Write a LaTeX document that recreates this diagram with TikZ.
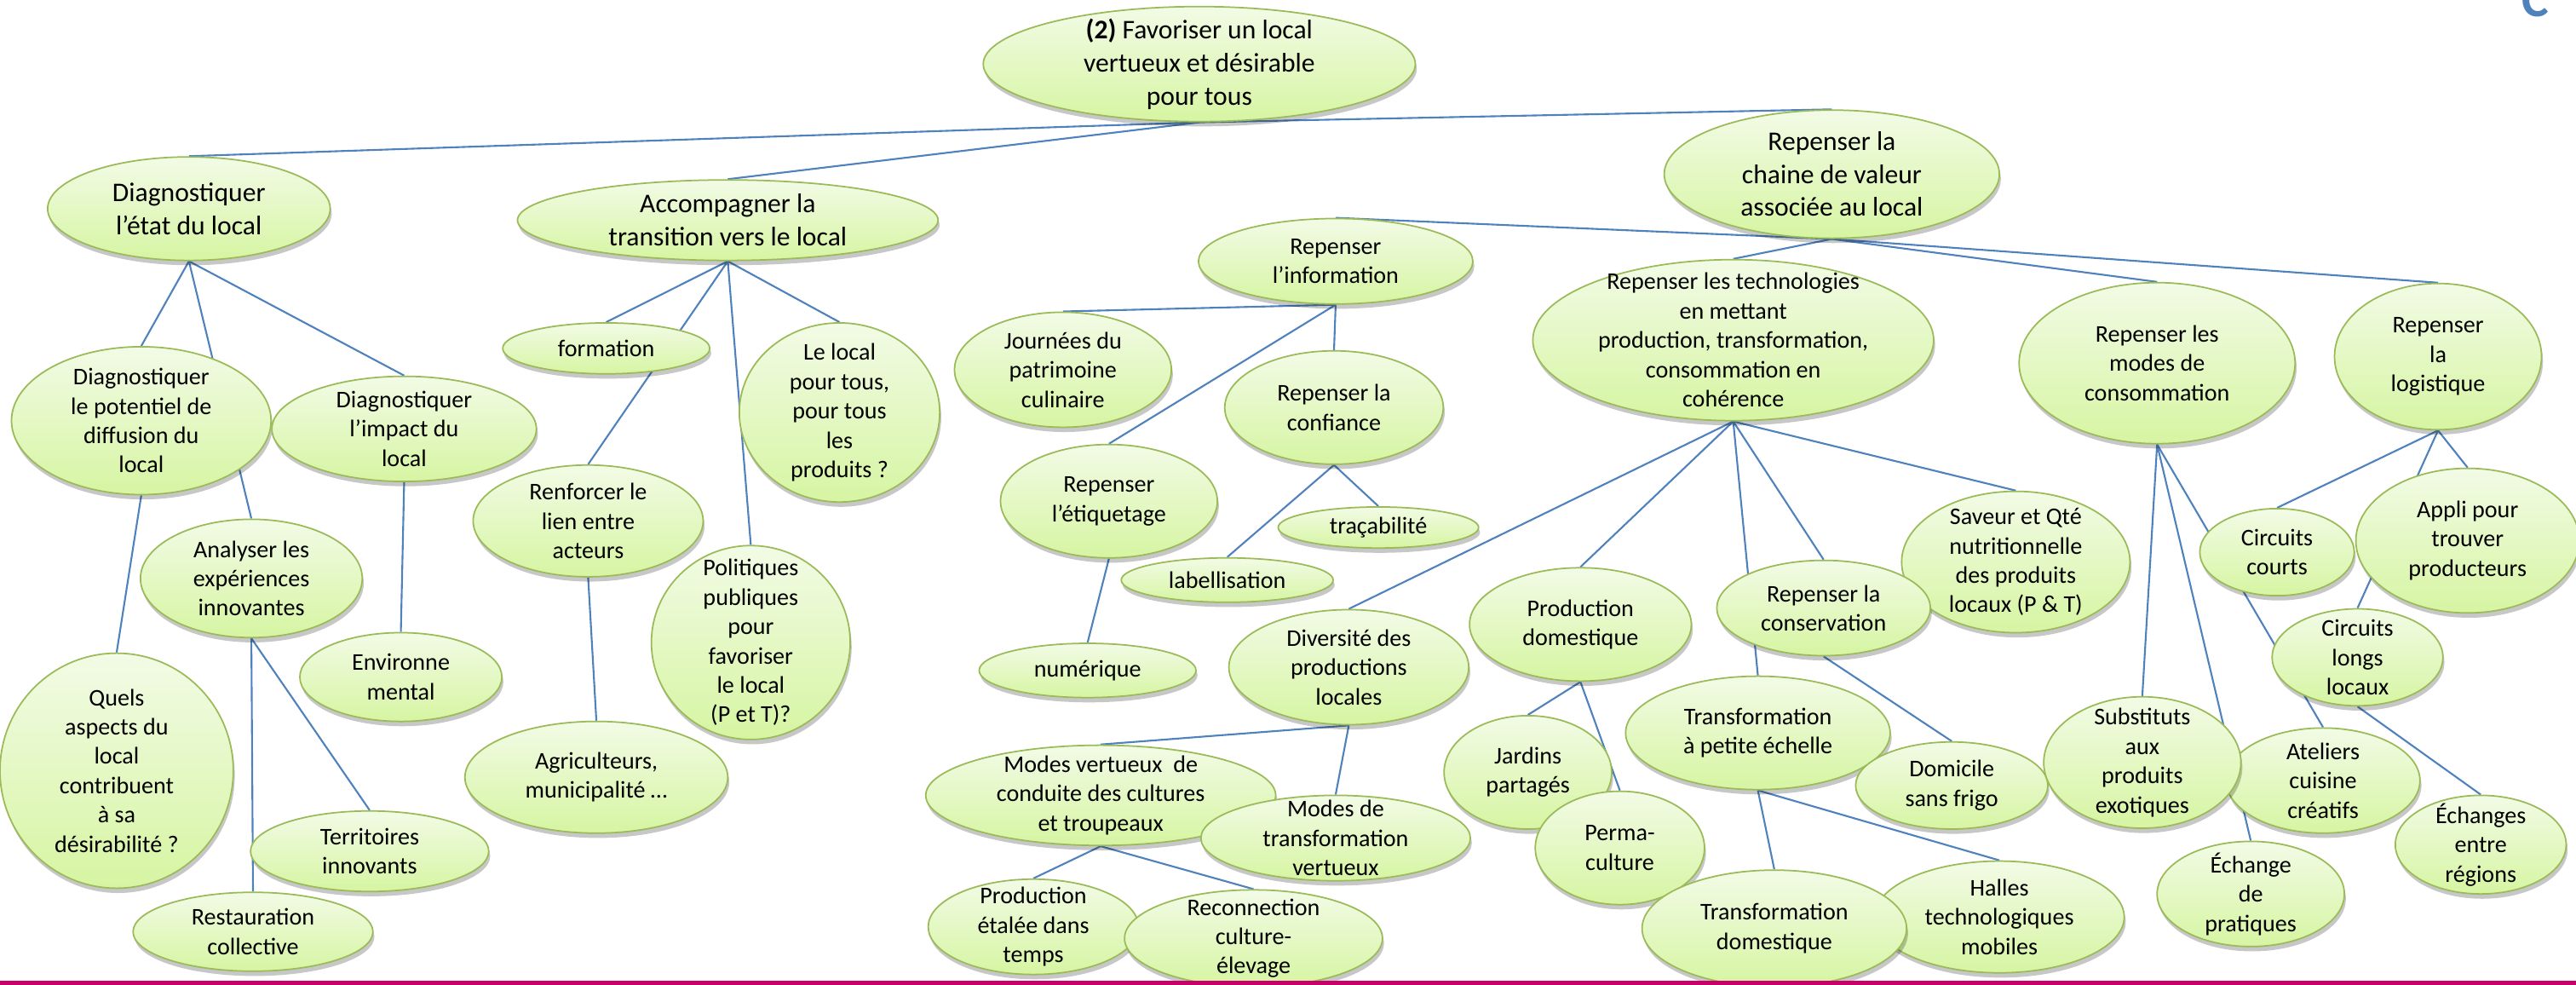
\documentclass[tikz,border=0pt]{standalone}
\usepackage{fontspec}
\setmainfont{Carlito}
\usepackage{tikz}
\usetikzlibrary{backgrounds,shadows,shapes.geometric}
\definecolor{CMBlue}{HTML}{4F81BD}
\definecolor{CMOlive}{HTML}{9BBB59}
\definecolor{CMLight}{HTML}{F2FBE6}
\definecolor{CMLime}{HTML}{D6F5A2}
\definecolor{CMMagenta}{HTML}{C8006A}
\newcommand{\cmu}{0.019286cm}
\newcommand{\cmfont}{\fontsize{8}{9.8}\selectfont}
\newcommand{\cmfontL}{\fontsize{9}{11}\selectfont}
\tikzset{
  cmBubble/.style={
    ellipse, draw=CMOlive, line width=0.5pt, top color=CMLight, bottom color=CMLime,
    inner sep=0pt,
    drop shadow={shadow xshift=0.5pt, shadow yshift=-1.6pt, opacity=0.22, fill=black}
  },
  cmSize/.style 2 args={minimum width=#1*\cmu, minimum height=#2*\cmu},
  cmText/.style={align=center, font=\cmfont, text=black, inner sep=0pt},
  cmTextL/.style={align=center, font=\cmfontL, text=black, inner sep=0pt},
  cmLink/.style={draw=CMBlue, line width=0.6pt}
}

\begin{document}
\begin{tikzpicture}[x=\cmu, y=-\cmu]
  \useasboundingbox (0,0) rectangle (1568,599);

  \node[cmBubble, cmSize={263}{70}, label={[cmTextL]center:{\textbf{(2)} Favoriser un local\\vertueux et désirable\\pour tous}}] (root) at (730,39) {};

  \node[cmBubble, cmSize={172}{63}, label={[cmTextL]center:{Diagnostiquer\\l’état du local}}] (etat) at (115,127) {};
  \node[cmBubble, cmSize={256}{49}, label={[cmTextL]center:{Accompagner la\\transition vers le local}}] (accomp) at (443,134) {};
  \node[cmBubble, cmSize={204}{78}, label={[cmTextL]center:{Repenser la\\chaine de valeur\\associée au local}}] (chaine) at (1115,106) {};

  \node[cmBubble, cmSize={158}{90}, label={[cmText]center:{Diagnostiquer\\le potentiel de\\diffusion du\\local}}] (diagpot) at (86,256) {};
  \node[cmBubble, cmSize={161}{64}, label={[cmText]center:{Diagnostiquer\\l’impact du\\local}}] (diagimpact) at (246,261) {};
  \node[cmBubble, cmSize={135}{72}, label={[cmText]center:{Analyser les\\expériences\\innovantes}}] (analyser) at (153,352) {};
  \node[cmBubble, cmSize={123}{54}, label={[cmText]center:{Environne\\mental}}] (environ) at (244,412) {};
  \node[cmBubble, cmSize={142}{143}, label={[cmText]center:{Quels\\aspects du\\local\\contribuent\\à sa\\désirabilité ?}}] (quels) at (71,469) {};
  \node[cmBubble, cmSize={145}{49}, label={[cmText]center:{Territoires\\innovants}}] (territoires) at (225,518) {};
  \node[cmBubble, cmSize={146}{48}, label={[cmText]center:{Restauration\\collective}}] (restau) at (154,567) {};

  \node[cmBubble, cmSize={126}{31}, label={[cmText]center:{formation}}] (formation) at (369,212) {};
  \node[cmBubble, cmSize={122}{109}, label={[cmText]center:{Le local\\pour tous,\\pour tous\\les\\produits ?}}] (lelocal) at (511,251) {};
  \node[cmBubble, cmSize={140}{68}, label={[cmText]center:{Renforcer le\\lien entre\\acteurs}}] (renforcer) at (358,317) {};
  \node[cmBubble, cmSize={121}{118}, label={[cmText]center:{Politiques\\publiques\\pour\\favoriser\\le local\\(P et T)?}}] (politiques) at (457,391) {};
  \node[cmBubble, cmSize={160}{68}, label={[cmText]center:{Agriculteurs,\\municipalité …}}] (agri) at (363,473) {};

  \node[cmBubble, cmSize={167}{52}, label={[cmText]center:{Repenser\\l’information}}] (info) at (813,159) {};
  \node[cmBubble, cmSize={244}{98}, label={[cmText]center:{Repenser les technologies\\en mettant\\production, transformation,\\consommation en\\cohérence}}] (techno) at (1055,207) {};
  \node[cmBubble, cmSize={168}{98}, label={[cmText]center:{Repenser les\\modes de\\consommation}}] (modes) at (1313,221) {};
  \node[cmBubble, cmSize={126}{89}, label={[cmText]center:{Repenser\\la\\logistique}}] (logist) at (1484,217) {};

  \node[cmBubble, cmSize={132}{70}, label={[cmText]center:{Journées du\\patrimoine\\culinaire}}] (journees) at (647,225) {};
  \node[cmBubble, cmSize={133}{69}, label={[cmText]center:{Repenser la\\confiance}}] (confiance) at (812,248) {};
  \node[cmBubble, cmSize={132}{69}, label={[cmText]center:{Repenser\\l’étiquetage}}] (etiquetage) at (675,305) {};
  \node[cmBubble, cmSize={122}{25}, label={[cmText]center:{traçabilité}}] (tracab) at (839,321) {};
  \node[cmBubble, cmSize={129}{27}, label={[cmText]center:{labellisation}}] (labell) at (747,353) {};
  \node[cmBubble, cmSize={132}{33}, label={[cmText]center:{numérique}}] (numerique) at (662,408) {};

  \node[cmBubble, cmSize={139}{86}, label={[cmText]center:{Saveur et Qté\\nutritionnelle\\des produits\\locaux (P \& T)}}] (saveur) at (1227,342) {};
  \node[cmBubble, cmSize={130}{58}, label={[cmText]center:{Repenser la\\conservation}}] (conserv) at (1110,370) {};
  \node[cmBubble, cmSize={135}{69}, label={[cmText]center:{Production\\domestique}}] (proddom) at (962,380) {};
  \node[cmBubble, cmSize={146}{70}, label={[cmText]center:{Diversité des\\productions\\locales}}] (diversite) at (821,406) {};
  \node[cmBubble, cmSize={161}{69}, label={[cmText]center:{Transformation\\à petite échelle}}] (transfo) at (1070,446) {};
  \node[cmBubble, cmSize={117}{53}, label={[cmText]center:{Domicile\\sans frigo}}] (domicile) at (1188,478) {};
  \node[cmBubble, cmSize={102}{69}, label={[cmText]center:{Jardins\\partagés}}] (jardins) at (930,470) {};
  \node[cmBubble, cmSize={103}{69}, label={[cmText]center:{Perma-\\culture}}] (perma) at (986,516) {};
  \node[cmBubble, cmSize={152}{68}, label={[cmText]center:{Halles\\technologiques\\mobiles}}] (halles) at (1217,558) {};
  \node[cmBubble, cmSize={161}{71}, label={[cmText]center:{Transformation\\domestique}}] (transdom) at (1080,565) {};

  \node[cmBubble, cmSize={213}{61}, label={[cmText]center:{Modes vertueux~ de\\conduite des cultures\\et troupeaux}}] (modesv) at (670,484) {};
  \node[cmBubble, cmSize={164}{52}, label={[cmText]center:{Modes de\\transformation\\vertueux}}] (modestr) at (813,510) {};
  \node[cmBubble, cmSize={128}{58}, label={[cmText]center:{Production\\étalée dans\\temps}}] (etalee) at (629,564) {};
  \node[cmBubble, cmSize={157}{59}, label={[cmText]center:{Reconnection\\culture-\\élevage}}] (reconn) at (763,571) {};

  \node[cmBubble, cmSize={94}{53}, label={[cmText]center:{Circuits\\courts}}] (circourts) at (1386,336) {};
  \node[cmBubble, cmSize={136}{88}, label={[cmText]center:{Appli pour\\trouver\\producteurs}}] (appli) at (1502,329) {};
  \node[cmBubble, cmSize={104}{59}, label={[cmText]center:{Circuits\\longs\\locaux}}] (circlong) at (1435,400) {};
  \node[cmBubble, cmSize={118}{64}, label={[cmText]center:{Ateliers\\cuisine\\créatifs}}] (ateliers) at (1414,475) {};
  \node[cmBubble, cmSize={120}{80}, label={[cmText]center:{Substituts\\aux\\produits\\exotiques}}] (substituts) at (1304,464) {};
  \node[cmBubble, cmSize={114}{64}, label={[cmText]center:{Échange\\de\\pratiques}}] (echange) at (1370,544) {};
  \node[cmBubble, cmSize={104}{60}, label={[cmText]center:{Échanges\\entre\\régions}}] (echanges) at (1510,514) {};

  \node[font=\fontsize{17}{20}\selectfont\bfseries, text=CMBlue, anchor=base, inner sep=0pt] (corner) at (1543,10) {C};

  \begin{scope}[on background layer]
    \draw[cmLink] (root.south) -- (etat.north);
    \draw[cmLink] (root.south) -- (accomp.north);
    \draw[cmLink] (root.south) -- (chaine.north);
    \draw[cmLink] (etat.south) -- (diagpot.north);
    \draw[cmLink] (etat.south) -- (analyser.north);
    \draw[cmLink] (etat.south) -- (diagimpact.north);
    \draw[cmLink] (diagpot.south) -- (quels.north);
    \draw[cmLink] (diagimpact.south) -- (environ.north);
    \draw[cmLink] (analyser.south) -- (restau.north);
    \draw[cmLink] (analyser.south) -- (territoires.north);
    \draw[cmLink] (accomp.south) -- (formation.north);
    \draw[cmLink] (accomp.south) -- (renforcer.north);
    \draw[cmLink] (accomp.south) -- (politiques.north);
    \draw[cmLink] (accomp.south) -- (lelocal.north);
    \draw[cmLink] (renforcer.south) -- (agri.north);
    \draw[cmLink] (chaine.south) -- (info.north);
    \draw[cmLink] (chaine.south) -- (techno.north);
    \draw[cmLink] (chaine.south) -- (modes.north);
    \draw[cmLink] (chaine.south) -- (logist.north);
    \draw[cmLink] (info.south) -- (journees.north);
    \draw[cmLink] (info.south) -- (etiquetage.north);
    \draw[cmLink] (info.south) -- (confiance.north);
    \draw[cmLink] (confiance.south) -- (labell.north);
    \draw[cmLink] (confiance.south) -- (tracab.north);
    \draw[cmLink] (etiquetage.south) -- (numerique.north);
    \draw[cmLink] (techno.south) -- (diversite.north);
    \draw[cmLink] (techno.south) -- (proddom.north);
    \draw[cmLink] (techno.south) -- (transfo.north);
    \draw[cmLink] (techno.south) -- (conserv.north);
    \draw[cmLink] (techno.south) -- (saveur.north);
    \draw[cmLink] (diversite.south) -- (modesv.north);
    \draw[cmLink] (diversite.south) -- (modestr.north);
    \draw[cmLink] (modesv.south) -- (etalee.north);
    \draw[cmLink] (modesv.south) -- (reconn.north);
    \draw[cmLink] (proddom.south) -- (jardins.north);
    \draw[cmLink] (proddom.south) -- (perma.north);
    \draw[cmLink] (transfo.south) -- (transdom.north);
    \draw[cmLink] (transfo.south) -- (halles.north);
    \draw[cmLink] (conserv.south) -- (domicile.north);
    \draw[cmLink] (modes.south) -- (substituts.north);
    \draw[cmLink] (modes.south) -- (ateliers.north);
    \draw[cmLink] (modes.south) -- (echange.north);
    \draw[cmLink] (logist.south) -- (circourts.north);
    \draw[cmLink] (logist.south) -- (appli.north);
    \draw[cmLink] (logist.south) -- (circlong.north);
    \draw[cmLink] (circlong.south) -- (echanges.north);
  \end{scope}

  \fill[CMMagenta] (0,597) rectangle (1568,600);
\end{tikzpicture}
\end{document}
